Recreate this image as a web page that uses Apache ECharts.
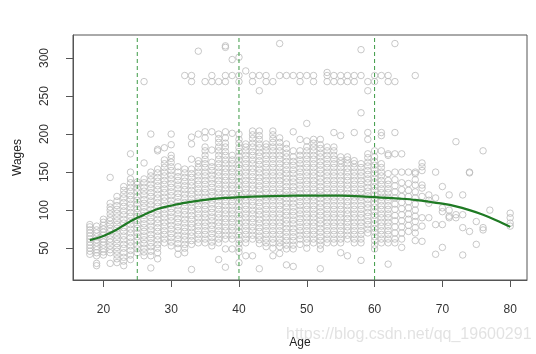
<!DOCTYPE html>
<html>
<head>
<meta charset="utf-8">
<script src="https://cdn.jsdelivr.net/npm/echarts@6/dist/echarts.min.js"></script>
<style>
  html, body { margin: 0; padding: 0; background: #fff; }
  #chart { width: 536px; height: 354px; }
</style>
</head>
<body>
<div id="chart"></div>
<script>
// wage readings per age column
var ages = [18,19,20,21,22,23,24,25,26,27,28,29,30,31,32,33,34,35,36,37,38,39,40,41,42,43,44,45,46,47,48,49,50,
  51,52,53,54,55,56,57,58,59,60,61,62,63,64,65,66,67,68,69,70,71,72,73,74,75,76,77,80];
var wageCols = [
  [42,46,50,54,58,62,66,70,74,78,81],
  [27,30,40,44,48,52,57,61,65,70,74,79],
  [41,45,49,54,58,62,67,71,75,80,84,88],
  [30,44,48,53,58,62,67,72,76,81,86,90,95,100,104,109,143],
  [31,36,41,46,51,56,61,66,71,76,81,86,91,96,101,106,112,118],
  [27,33,38,44,50,55,61,66,72,77,83,88,94,99,105,110,116,121,126,131],
  [35,41,47,53,58,64,70,75,81,86,92,97,103,108,114,119,125,130,136,141,150,174],
  [44,49,54,60,65,70,76,81,86,92,97,102,108,113,118,124,129,134,137],
  [40,45,50,56,61,66,72,77,82,88,93,98,104,109,114,120,125,130,136,141,162,269],
  [24,40,46,52,57,63,68,74,79,85,90,96,101,107,112,118,123,129,134,140,145,150,200],
  [36,44,50,55,61,66,72,77,83,88,94,99,105,110,116,121,127,132,138,143,149,154,178,180],
  [57,62,68,73,79,84,90,95,101,106,112,117,123,128,134,139,145,150,156,161,166,182],
  [53,58,64,69,75,80,86,91,97,102,108,113,119,124,130,135,141,146,152,157,163,168,172,186,200],
  [42,50,56,62,67,73,78,84,89,95,100,106,111,117,122,128,133,139,144,150,157],
  [44,50,55,61,66,72,77,83,88,94,99,105,110,116,121,127,132,138,143,149,154,277],
  [22,55,60,66,71,77,82,88,93,99,104,110,115,121,126,132,137,143,148,154,167,187,196,269,277],
  [57,62,68,73,79,84,90,95,101,106,112,117,123,128,134,139,145,150,156,161,165,200,309],
  [57,62,68,73,79,84,90,95,101,106,112,117,123,128,134,139,145,150,156,161,167,172,178,183,195,203,269],
  [53,58,64,69,75,80,86,91,97,102,108,113,119,124,130,135,141,146,152,157,163,179,203,269,277],
  [35,57,62,68,73,79,84,90,95,101,106,112,117,123,128,134,139,145,150,156,161,167,172,178,183,189,194,200,269],
  [25,49,62,67,73,78,84,89,95,100,106,111,117,122,128,133,139,144,150,155,161,166,172,177,183,188,195,203,269,277,314,316],
  [49,62,67,73,78,84,89,95,100,106,111,117,122,128,133,139,144,150,155,161,166,172,201,277,298],
  [31,45,50,56,61,67,72,78,83,89,94,100,105,111,116,122,127,133,138,144,149,155,160,166,171,177,182,188,193,200,269,277,301],
  [40,57,62,68,73,79,84,90,95,101,106,112,117,123,128,134,139,145,150,156,161,167,172,178,183,187,283],
  [40,62,67,73,78,84,89,95,100,106,111,117,122,128,133,139,144,150,155,161,166,172,177,183,188,194,199,204,269,277],
  [23,56,61,66,72,77,83,88,94,99,105,110,116,121,127,132,138,143,149,154,160,165,171,176,182,187,193,198,204,257,277],
  [52,57,62,68,73,79,84,90,95,101,106,112,117,123,128,134,139,145,150,156,161,167,172,178,183,187,269,277],
  [40,50,57,62,68,73,79,84,90,95,101,106,112,117,123,128,134,139,145,150,156,161,167,172,178,183,189,194,199,204,269],
  [43,52,57,62,68,73,79,84,90,95,101,106,112,117,123,128,134,139,145,150,156,161,167,172,178,183,189,195,277,319],
  [28,49,54,60,65,71,76,82,87,93,98,104,109,115,120,126,131,137,142,148,153,159,164,170,175,181,187,277],
  [26,49,54,60,65,71,76,82,87,93,98,104,109,115,120,126,131,137,142,148,153,159,164,170,178,203,277],
  [55,62,67,73,78,84,89,95,100,106,111,117,122,128,133,139,144,150,155,161,166,172,178,193,269,277],
  [50,57,62,68,73,79,84,90,95,101,106,112,117,123,128,134,139,145,150,156,161,167,172,178,183,191,214,277],
  [57,62,68,73,79,84,90,95,101,106,112,117,123,128,134,139,145,150,156,161,167,172,178,183,188,193,269,277],
  [23,49,54,60,65,71,76,82,87,93,98,104,109,115,120,126,131,137,142,148,153,159,164,170,175,181,186,193],
  [57,62,68,73,79,84,90,95,101,106,112,117,123,128,134,139,145,150,156,161,167,172,178,183,269,277,281],
  [57,62,68,73,79,84,90,95,101,106,112,117,123,128,134,139,145,150,156,161,167,172,178,183,202,269,277],
  [44,57,62,68,73,79,84,90,95,101,106,112,117,123,128,134,139,145,150,156,161,165,170,198,269,277],
  [40,62,67,73,78,84,89,95,100,106,111,117,122,128,133,139,144,150,155,161,166,170,269,277],
  [57,62,68,73,79,84,90,95,101,106,112,117,123,128,134,139,145,150,156,161,165,202,269,277],
  [34,57,62,68,73,79,84,90,95,101,106,112,117,123,128,134,139,145,150,156,161,228,277,311],
  [70,75,81,86,92,97,103,108,114,119,125,130,136,141,147,152,158,163,169,174,193,202,257,269],
  [49,54,60,65,71,76,82,87,93,98,104,109,115,120,126,131,137,142,148,153,159,164,170,178,269,277],
  [57,62,68,73,79,84,90,95,101,106,112,117,123,128,134,139,145,150,156,161,178,198,202,277],
  [29,57,62,68,73,79,84,90,95,101,106,112,117,123,128,134,139,148,172,174,269,277],
  [57,62,70,78,86,93,101,108,116,124,132,140,150,174,202,269,319],
  [51,62,70,78,86,94,102,110,118,127,136,150,174],
  [72,80,88,95,103,111,118,126,135,150],
  [60,70,77,85,92,100,108,116,124,133,140,148,150,277],
  [59,79,90,118,129,133,152,157,162],
  [90,109,113,120],
  [42,81,116,150],
  [51,81,98,103,131],
  [90,92,100,120],
  [90,94,190],
  [41,77,94,120],
  [72,149,150],
  [55,85],
  [74,77,178],
  [100],
  [79,83,90,96]
];

// fitted spline
var fitAge = [18,19,20,21,22,23,24,25,26,27,28,29,30,32,35,38,40,42,45,48,50,52,55,58,60,62,64,66,68,70,72,74,76,78,80];
var fitWage = [60.5,63,66,70,74.5,80,85.5,90,94,98,101.5,104,106,109.5,113.5,116,117,117.8,118.5,119,119.2,119.2,119,118,117,116,115,113.5,111,108.5,105,100,94,86.5,78];

var knots = [25, 40, 60];
var xTicks = [20, 30, 40, 50, 60, 70, 80];
var yTicks = [50, 100, 150, 200, 250, 300];

var yMin = 8.15, yMax = 330.27;

var points = [];
ages.forEach(function (a, i) {
  wageCols[i].forEach(function (w) { points.push([a, w]); });
});
var fitLine = fitAge.map(function (a, i) { return [a, fitWage[i]]; });

// one dashed series per knot, spanning the full y range
var knotSeries = knots.map(function (k) {
  return {
    type: 'line', data: [[k, yMin], [k, yMax]], showSymbol: false, silent: true,
    lineStyle: { color: '#3c9a45', width: 1, type: [4, 3] }
  };
});

var myChart = echarts.init(document.getElementById('chart'));
myChart.setOption({
  animation: false,
  textStyle: { fontFamily: 'Liberation Sans, Arial, sans-serif' },
  grid: { left: 73, right: 9, top: 35, bottom: 70, show: true, borderColor: '#555', borderWidth: 1 },
  xAxis: {
    type: 'value', min: 15.52, max: 82.48,
    name: 'Age', nameLocation: 'middle', nameGap: 57,
    nameTextStyle: { fontSize: 12, color: '#222' },
    axisLine: { show: true, lineStyle: { color: '#555' } },
    axisTick: { show: true, length: 7, customValues: xTicks, lineStyle: { color: '#555' } },
    axisLabel: { customValues: xTicks, fontSize: 12, color: '#333', margin: 24 },
    splitLine: { show: false }
  },
  yAxis: {
    type: 'value', min: yMin, max: yMax,
    name: 'Wages', nameLocation: 'middle', nameGap: 49,
    nameTextStyle: { fontSize: 12, color: '#222' },
    axisLine: { show: true, lineStyle: { color: '#555' } },
    axisTick: { show: true, length: 7, customValues: yTicks, lineStyle: { color: '#555' } },
    axisLabel: { customValues: yTicks, fontSize: 12, color: '#333', margin: 22, rotate: 90 },
    splitLine: { show: false }
  },
  graphic: [{
    type: 'text', left: 286, top: 327,
    style: { text: 'https://blog.csdn.net/qq_19600291', fontSize: 16, fill: 'rgba(150,150,150,0.28)', fontFamily: 'Liberation Sans, Arial, sans-serif' }
  }],
  series: [
    {
      type: 'scatter', data: points, symbol: 'circle', symbolSize: 6.5,
      itemStyle: { color: 'rgba(0,0,0,0)', borderColor: '#bababa', borderWidth: 1 },
      silent: true
    }
  ].concat(knotSeries, [
    {
      type: 'line', data: fitLine, smooth: 0.3, showSymbol: false,
      lineStyle: { color: '#1f7a24', width: 2.2 },
      silent: true
    }
  ])
});
</script>
</body>
</html>
